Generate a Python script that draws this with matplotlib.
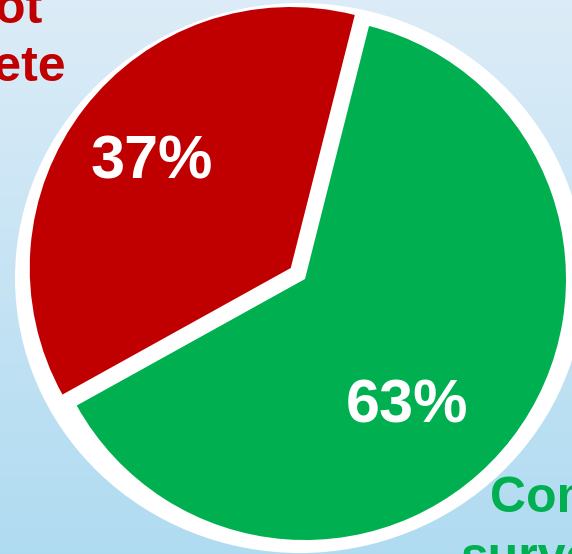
import numpy as np
import matplotlib.pyplot as plt
from matplotlib.patches import Ellipse

# data
categories = ["Did not complete", "Completed survey"]
values = [37, 63]
colors = ["#C00000", "#00B050"]
label_lines = [["Did not", "complete"], ["Completed", "survey"]]

W, H = 572, 554
fig = plt.figure(figsize=(W / 100, H / 100), dpi=100)
ax = fig.add_axes([0, 0, 1, 1])

# light blue vertical gradient background
grad = np.linspace(0, 1, 256)[:, None, None]
top = np.array([0.863, 0.925, 0.969])
bottom = np.array([0.69, 0.86, 0.945])
ax.imshow(top + (bottom - top) * grad, extent=[0, W, 0, H], aspect='auto',
          origin='upper', zorder=0)

# white disc behind the pie
ax.add_patch(Ellipse((300, 276), 570, 550, color='white', zorder=1, lw=0))

radius = 261
wedges, texts, autotexts = ax.pie(
    values, colors=colors, startangle=209, counterclock=False,
    radius=radius, center=(305, 275), explode=[18, 0],
    autopct='%1.0f%%', pctdistance=0.65, frame=False,
    wedgeprops=dict(linewidth=0, zorder=2),
    textprops=dict(color='white', fontsize=44, fontweight='bold',
                   family='Liberation Sans'))

# move the percentages where the reference has them
pct_pos = [(143.0, 0.668), (-51.5, 0.625)]
for w, t, (ang, dist) in zip(wedges, autotexts, pct_pos):
    cx, cy = w.center
    a = np.deg2rad(ang)
    t.set_position((cx + dist * radius * np.cos(a), cy + dist * radius * np.sin(a)))
    t.set_zorder(3)

# outer category labels (partly outside the frame)
font = dict(fontsize=36, fontweight='bold', family='Liberation Sans')
ax.text(-44, H - 23, label_lines[0][0], ha='center', va='baseline',
        color=colors[0], **font)
ax.text(-44, H - 81, label_lines[0][1], ha='center', va='baseline',
        color=colors[0], **font)
ax.text(490, H - 512, label_lines[1][0], ha='left', va='baseline',
        color=colors[1], **font)
ax.text(460, H - 572, label_lines[1][1], ha='left', va='baseline',
        color=colors[1], **font)

ax.set_xlim(0, W)
ax.set_ylim(0, H)
ax.set_aspect('auto')
ax.axis('off')

fig.savefig('out.png', dpi=100)
